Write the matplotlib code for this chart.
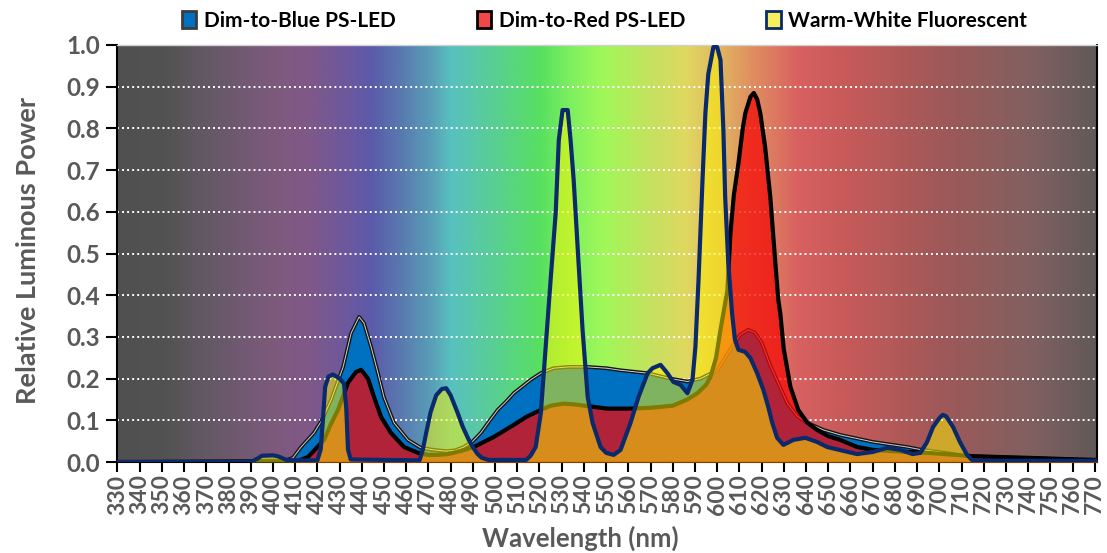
import numpy as np
import matplotlib
matplotlib.use('Agg')
import matplotlib.pyplot as plt
from matplotlib.patches import Patch

plt.rcParams['font.family'] = ['Lato', 'DejaVu Sans']

# ---------------- data ----------------
blue_wl = [330, 405, 409, 412.7, 418.5, 422, 426.2, 431.6, 435.2, 438.8, 441, 444.2, 447.3, 450,
           454.5, 460.8, 466.6, 472.5, 478, 482, 486, 490, 493.6, 497, 501.2, 505, 508.4, 512,
           516, 520.6, 526.4, 533, 541.7, 550, 556.5, 568.7, 579, 586.6, 592.5, 600, 605.8,
           610.3, 614, 617, 620, 623.9, 627.5, 631.6, 636, 640.6, 647.8, 655.4, 670.2, 685.5,
           691.3, 700, 712.5, 742, 766, 771]
blue_val = [0, 0.003, 0.01, 0.036, 0.07, 0.1, 0.149, 0.228, 0.309, 0.348, 0.333, 0.276, 0.213, 0.155,
            0.094, 0.053, 0.034, 0.029, 0.026, 0.028, 0.036, 0.05, 0.07, 0.095, 0.125, 0.145, 0.165, 0.18,
            0.197, 0.213, 0.225, 0.228, 0.228, 0.225, 0.22, 0.213, 0.2, 0.193, 0.2, 0.22, 0.269,
            0.305, 0.317, 0.31, 0.287, 0.232, 0.189, 0.141, 0.11, 0.094, 0.077, 0.065, 0.048, 0.036,
            0.03, 0.024, 0.014, 0.009, 0.005, 0.005]

red_wl = [330, 410, 415.8, 419, 423, 426, 429.3, 433.8, 437.4, 439.7, 442.8, 445.5, 448.7, 453.1,
          459, 465.3, 469.8, 474, 478.8, 485, 490.4, 499.4, 508.4, 514, 520.6, 525, 530.9, 536,
          541.7, 550.7, 560, 570, 580, 586.6, 591.1, 595, 597, 599.5, 601.5, 604.6, 606, 607.5,
          609.6, 611.5, 612.7, 615, 616.5, 618, 619.4, 621.6, 623.9, 626.2, 627.5, 628.4, 630,
          633, 636.5, 640.6, 645, 650, 655.4, 663, 670.2, 685.5, 694.5, 705, 715, 727, 740, 757, 771]
red_val = [0, 0, 0.012, 0.03, 0.053, 0.09, 0.125, 0.19, 0.216, 0.221, 0.2, 0.156, 0.108, 0.07,
           0.036, 0.022, 0.017, 0.017, 0.019, 0.027, 0.036, 0.06, 0.089, 0.108, 0.125, 0.135, 0.14, 0.138,
           0.134, 0.128, 0.128, 0.13, 0.135, 0.15, 0.165, 0.185, 0.204, 0.25, 0.317, 0.412, 0.55, 0.64,
           0.717, 0.8, 0.837, 0.876, 0.885, 0.87, 0.837, 0.755, 0.636, 0.477, 0.39, 0.357, 0.27,
           0.18, 0.125, 0.094, 0.077, 0.062, 0.053, 0.036, 0.029, 0.024, 0.022, 0.018, 0.014, 0.012, 0.01, 0.007, 0.005]

ww_wl = [330, 390, 393, 395, 400, 402, 404, 406, 410, 420, 421.5, 422.5, 423.5, 425, 427, 430, 432,
         433, 433.8, 435, 466, 467.5, 469, 471, 473.5, 476, 478, 480, 483, 485.5, 488, 490, 492,
         494, 497, 514, 516, 518.3, 520.6, 522.8, 525, 527.3, 528.7, 530.4, 532.7, 534, 535.4,
         537.6, 539.4, 541.7, 543.9, 547.5, 550, 553.4, 556.5, 561, 564.6, 568.7, 570.9, 574.5,
         577.6, 580.3, 583.5, 586.6, 588.9, 590.2, 591.6, 593.4, 594.7, 596, 598.3, 600, 601.5,
         602.8, 603.6, 605, 606.7, 608, 609.6, 612.6, 615, 618, 620.8, 623, 624.8, 627, 629.8,
         634.3, 639.7, 645, 649.5, 655, 663, 670, 676.5, 682.4, 688, 691.5, 694.5, 697.2, 700,
         701.5, 703, 706.2, 709.3, 712.5, 714.7, 720, 771]
ww_val = [0, 0, 0.008, 0.015, 0.016, 0.014, 0.01, 0.005, 0.004, 0.004, 0.03, 0.1, 0.18, 0.205, 0.21, 0.2, 0.188,
          0.13, 0.03, 0.006, 0.004, 0.03, 0.07, 0.12, 0.16, 0.175, 0.177, 0.16, 0.12, 0.084, 0.055, 0.036, 0.02,
          0.01, 0.005, 0.005, 0.015, 0.036, 0.117, 0.276, 0.436, 0.597, 0.772, 0.844, 0.844, 0.772, 0.676,
          0.477, 0.317, 0.156, 0.094, 0.036, 0.022, 0.017, 0.029, 0.094, 0.156, 0.213, 0.225, 0.233,
          0.213, 0.192, 0.185, 0.165, 0.197, 0.276, 0.436, 0.676, 0.837, 0.93, 0.995, 0.995, 0.964,
          0.796, 0.636, 0.477, 0.357, 0.293, 0.269, 0.264, 0.249, 0.213, 0.173, 0.132, 0.094, 0.058, 0.041,
          0.053, 0.058, 0.048, 0.036, 0.029, 0.019, 0.024, 0.034, 0.029, 0.019, 0.022, 0.048, 0.084, 0.105,
          0.113, 0.11, 0.084, 0.048, 0.017, 0.005, 0.003, 0.003]

tick_values = list(range(330, 771, 10))
y_ticks = [round(0.1 * i, 1) for i in range(11)]
series_names = ['Dim-to-Blue PS-LED', 'Dim-to-Red PS-LED', 'Warm-White Fluorescent']

# ---------------- figure ----------------
W, H = 1107, 553
fig = plt.figure(figsize=(W / 100, H / 100), dpi=100)
ax = fig.add_axes([117 / W, (H - 462) / H, 980 / W, 417 / H])
xmin, xmax = 329.8, 771.0

# spectrum background
stops = [(329, (80, 80, 80)), (352, (82, 82, 82)), (368, (98, 88, 100)), (401, (125, 90, 125)),
         (415, (128, 88, 135)), (435, (106, 88, 160)), (444, (90, 90, 170)), (458, (90, 122, 176)),
         (472, (88, 160, 184)), (480, (88, 192, 192)), (501, (88, 208, 144)), (520.6, (88, 224, 96)),
         (535, (128, 240, 96)), (549, (160, 248, 88)), (572, (200, 224, 96)), (586, (224, 216, 96)),
         (600.6, (224, 184, 96)), (615, (224, 144, 96)), (637, (216, 96, 96)), (657.6, (200, 90, 90)),
         (700, (160, 88, 88)), (743, (128, 96, 96)), (772, (96, 88, 88))]
sx = np.array([s[0] for s in stops])
sc = np.array([s[1] for s in stops]) / 255.0
gx = np.linspace(xmin, xmax, 1200)
img = np.stack([np.interp(gx, sx, sc[:, k]) for k in range(3)], axis=-1)[None, :, :]
ax.imshow(img, extent=[xmin, xmax, 0, 1], aspect='auto', origin='lower', zorder=0,
          interpolation='bilinear')

# grid
for yv in y_ticks[1:-1]:
    ax.axhline(yv, color='white', lw=1.4, ls=(0, (1.0, 1.6)), zorder=0.5)

# series
ax.fill_between(blue_wl, blue_val, 0, color='#0070C0', lw=0, zorder=2)
ax.plot(blue_wl, blue_val, color='#151515', lw=2.7, zorder=3, solid_joinstyle='round')
ax.plot(blue_wl, blue_val, color='#cfcfcf', lw=0.7, zorder=3.1, solid_joinstyle='round')

ax.fill_between(red_wl, red_val, 0, color=(0.96, 0.02, 0.02), alpha=0.72, lw=0, zorder=4)
ax.plot(red_wl, red_val, color='black', lw=3.0, zorder=5, solid_joinstyle='round')

ax.fill_between(ww_wl, ww_val, 0, color=(1.0, 0.97, 0.0), alpha=0.5, lw=0, zorder=6)
ax.plot(ww_wl, ww_val, color='#0B2A6B', lw=3.0, zorder=7, solid_joinstyle='round')

ax.set_xlim(xmin, xmax)
ax.set_ylim(0, 1)

gray = '#595959'
ax.set_xticks(tick_values)
ax.set_xticklabels([str(v) for v in tick_values], rotation=90, fontsize=16.5,
                   fontweight='bold', color=gray)
ax.set_yticks(y_ticks)
ax.set_yticklabels([f'{v:.1f}' for v in y_ticks], fontsize=17.5, fontweight='bold', color=gray)
ax.tick_params(axis='x', direction='out', length=7, width=1.5, color='black', pad=2)
ax.tick_params(axis='y', direction='out', length=8, width=1.5, color='black', pad=4)

for s in ['left', 'bottom', 'right']:
    ax.spines[s].set_color('black')
    ax.spines[s].set_linewidth(1.5)
ax.spines['top'].set_color('#d0d0d0')
ax.spines['top'].set_linewidth(1.0)

fig.text(28 / W, 1 - 250 / H, 'Relative Luminous Power', rotation=90, ha='center', va='center',
         fontsize=19.5, fontweight='bold', color=gray)
fig.text(580 / W, 1 - 538 / H, 'Wavelength (nm)', ha='center', va='center',
         fontsize=18.5, fontweight='bold', color=gray)

handles = [Patch(facecolor='#0070C0', edgecolor='#3c3c3c', lw=2),
           Patch(facecolor='#F04848', edgecolor='black', lw=2),
           Patch(facecolor='#F4F060', edgecolor='#0B2A6B', lw=2)]
fig.legend(handles, series_names, loc='center', bbox_to_anchor=(0.546, 0.962), ncol=3,
           frameon=False, prop={'size': 15, 'weight': 'bold'}, handlelength=0.7,
           handleheight=0.9, handletextpad=0.35, columnspacing=3.9)

fig.savefig('out.png', dpi=100)
